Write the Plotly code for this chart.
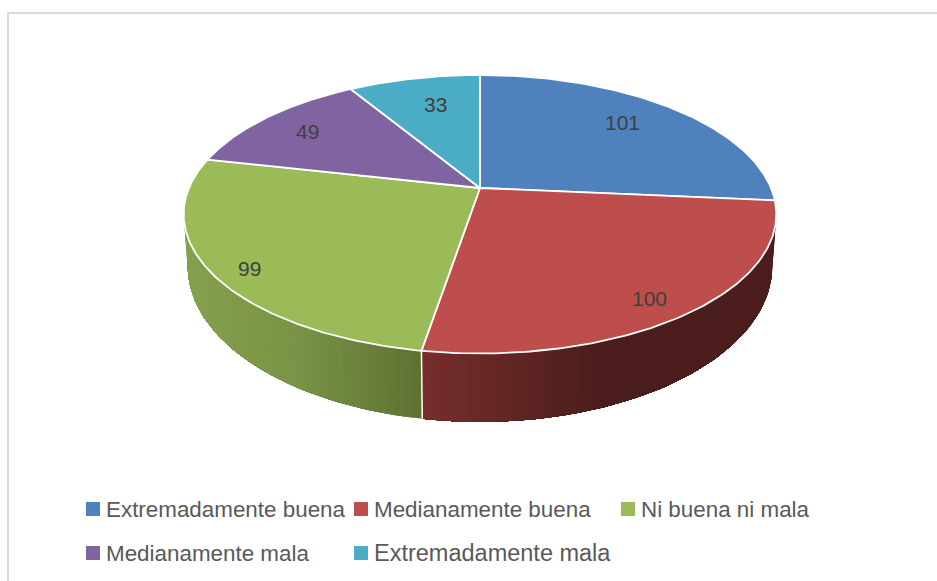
import numpy as np
import plotly.graph_objects as go

categories = ["Extremadamente buena", "Medianamente buena", "Ni buena ni mala",
              "Medianamente mala", "Extremadamente mala"]
values = [101, 100, 99, 49, 33]
top_colors = ["#4F81BD", "#BE4E4C", "#9BBB59", "#8064A2", "#4BACC6"]

# Wall shading (x pixel, rgb) for the slices whose side is visible
wall_stops = {
    1: [(422, (120, 46, 44)), (600, (75, 30, 29)), (790, (75, 30, 29))],
    2: [(180, (135, 162, 78)), (300, (122, 147, 70)), (422, (94, 114, 50))],
}
label_xy = [(622, 122), (649, 298), (249, 268), (307, 131), (435, 104)]
legend_xy = [(93, 509), (361, 509), (628, 509), (93, 553), (361, 553)]
legend_font_sizes = [22.4, 22.4, 22.4, 22.4, 23.5]

W, H = 937, 581
CX, K = 480.0, 0.1885
TOP = dict(a=291.0, b=134.3, y0=188.0)
BOT = dict(a=287.0, b=150.0, y0=237.0)


def project(theta, disc, r=1.0):
    w = 1 + K * r * np.cos(theta)
    return CX + disc["a"] * r * np.sin(theta) / w, disc["y0"] - disc["b"] * r * np.cos(theta) / w


def shade(stops, x):
    xs = [s[0] for s in stops]
    rgb = [int(np.interp(x, xs, [s[1][i] for s in stops])) for i in range(3)]
    return f"rgb({rgb[0]},{rgb[1]},{rgb[2]})"


edges = np.radians(np.concatenate([[0], np.cumsum(values)]) / sum(values) * 360)
fig = go.Figure()

# Side walls: each strip runs from its start to the end of the slice and is
# painted over by the next one, so no seams show between strips.
for i, stops in wall_stops.items():
    n = int(np.degrees(edges[i + 1] - edges[i]) / 1.5)
    t = np.linspace(edges[i], edges[i + 1], n + 1)
    for k in range(n):
        seg = t[k:]
        xt, yt = project(seg, TOP)
        xb, yb = project(seg[::-1], BOT)
        mid = project((t[k] + t[k + 1]) / 2, BOT)[0]
        col = shade(stops, mid)
        fig.add_trace(go.Scatter(x=list(xt) + list(xb), y=list(yt) + list(yb), mode="lines",
                                 fill="toself", fillcolor=col, line=dict(width=0),
                                 showlegend=False, hoverinfo="skip"))

# Wall separator between the red and green slices
xt, yt = project(edges[2], TOP)
xb, yb = project(edges[2], BOT)
fig.add_trace(go.Scatter(x=[xt, xb], y=[yt, yb], mode="lines", line=dict(color="white", width=1.5),
                         showlegend=False, hoverinfo="skip"))

# Top face
for i, cat in enumerate(categories):
    t = np.linspace(edges[i], edges[i + 1], 120)
    x, y = project(t, TOP)
    fig.add_trace(go.Scatter(x=[CX] + list(x) + [CX], y=[TOP["y0"]] + list(y) + [TOP["y0"]],
                             mode="lines", fill="toself", fillcolor=top_colors[i],
                             line=dict(color="white", width=1.8), name=cat,
                             showlegend=False, hoverinfo="skip"))

annotations = []
for v, (x, y) in zip(values, label_xy):
    annotations.append(dict(x=x, y=y, text=str(v), showarrow=False, xref="x", yref="y",
                            font=dict(family="Liberation Sans", size=21, color="#404040")))

# Legend
for cat, col, (x, y), fs in zip(categories, top_colors, legend_xy, legend_font_sizes):
    fig.add_trace(go.Scatter(x=[x], y=[y], mode="markers", name=cat, showlegend=False, hoverinfo="skip",
                             marker=dict(symbol="square", size=14, color=col)))
    annotations.append(dict(x=x + 11, y=y, text=cat, showarrow=False, xanchor="left", xref="x", yref="y",
                            font=dict(family="Liberation Sans", size=fs, color="#595959")))

frame = dict(color="#D9D9D9", width=2)
fig.update_layout(
    width=W, height=H, autosize=False, margin=dict(l=0, r=0, t=0, b=0),
    paper_bgcolor="white", plot_bgcolor="white", showlegend=False,
    xaxis=dict(range=[0, W], visible=False, fixedrange=True),
    yaxis=dict(range=[H, 0], visible=False, fixedrange=True),
    annotations=annotations,
    shapes=[
        dict(type="line", x0=8, x1=8, y0=13, y1=H, line=frame),
        dict(type="line", x0=8, x1=W, y0=13, y1=13, line=frame),
    ],
)
fig.write_html("out.html", config={"displayModeBar": False},
               post_script="document.body.style.margin='0';document.body.style.overflow='hidden';")
